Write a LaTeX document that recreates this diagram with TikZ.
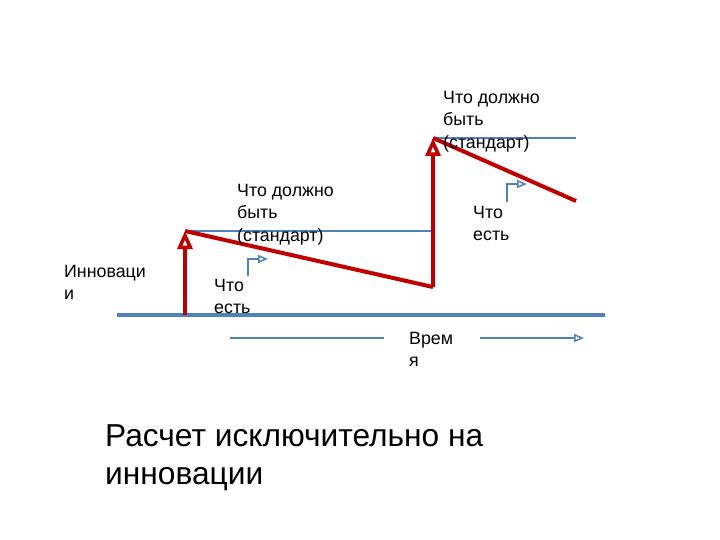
\documentclass[tikz,border=0pt]{standalone}
\usepackage{fontspec}
\setmainfont{Liberation Sans}
\usetikzlibrary{arrows.meta}
\definecolor{ablue}{RGB}{79,129,189}
\definecolor{ared}{RGB}{192,0,0}
\tikzset{
  redline/.style={draw=ared,line width=4pt},
  redarrow/.style={redline,-{Triangle[open,length=18pt,width=15pt,line width=3.5pt]}},
  blueline/.style={draw=ablue,line width=2pt},
  bluearrow/.style={blueline,-{Triangle[open,length=10pt,width=8pt,line width=1.5pt]}},
  lbl/.style={font=\fontsize{17.8}{22.5}\selectfont,align=left,anchor=north west,inner sep=0pt},
  big/.style={font=\fontsize{31.7}{38}\selectfont,align=left,anchor=north west,inner sep=0pt}
}
\begin{document}
\begin{tikzpicture}[x=1pt,y=-1pt]
\useasboundingbox[fill=white] (0,0) rectangle (720,540);
% points
\coordinate (b0) at (117,315);
\coordinate (b1) at (605,315);
\coordinate (a1) at (185,315);
\coordinate (t1) at (185,231);
\coordinate (s1) at (433,231);
\coordinate (l1) at (433,287);
\coordinate (t2) at (433,138);
\coordinate (s2) at (576,138);
\coordinate (l2) at (576,201);
\coordinate (e1a) at (248,276);
\coordinate (e1b) at (248,259);
\coordinate (e1c) at (268,259);
\coordinate (e2a) at (507,202);
\coordinate (e2b) at (507,184);
\coordinate (e2c) at (527,184);
\coordinate (ta) at (230,338);
\coordinate (tb) at (384,338);
\coordinate (tc) at (480,338);
\coordinate (td) at (584,338);
% blue lines
\draw[blueline,line width=3.5pt] (b0) -- (b1);
\draw[blueline] (t1) -- (s1);
\draw[blueline] (t2) -- (s2);
\draw[bluearrow] (e1a) -- (e1b) -- (e1c);
\draw[bluearrow] (e2a) -- (e2b) -- (e2c);
\draw[blueline] (ta) -- (tb);
\draw[bluearrow] (tc) -- (td);
% red
\draw[redarrow] (a1) -- (t1);
\draw[redline,line join=round] (t1) -- (l1);
\draw[redarrow] (l1) -- (t2);
\draw[redline] (t2) -- (l2);
% labels
\node[lbl] (innov) at (64,265) {Инноваци\\и};
\node[lbl] (std1) at (237,184) {Что должно\\быть\\(стандарт)};
\node[lbl] (is1) at (214,279) {Что\\есть};
\node[lbl] (std2) at (443,91) {Что должно\\быть\\(стандарт)};
\node[lbl] (is2) at (473,206) {Что\\есть};
\node[lbl] (time) at (409,332) {Врем\\я};
\node[big] (title) at (105,424) {Расчет исключительно на\\инновации};
\end{tikzpicture}
\end{document}
